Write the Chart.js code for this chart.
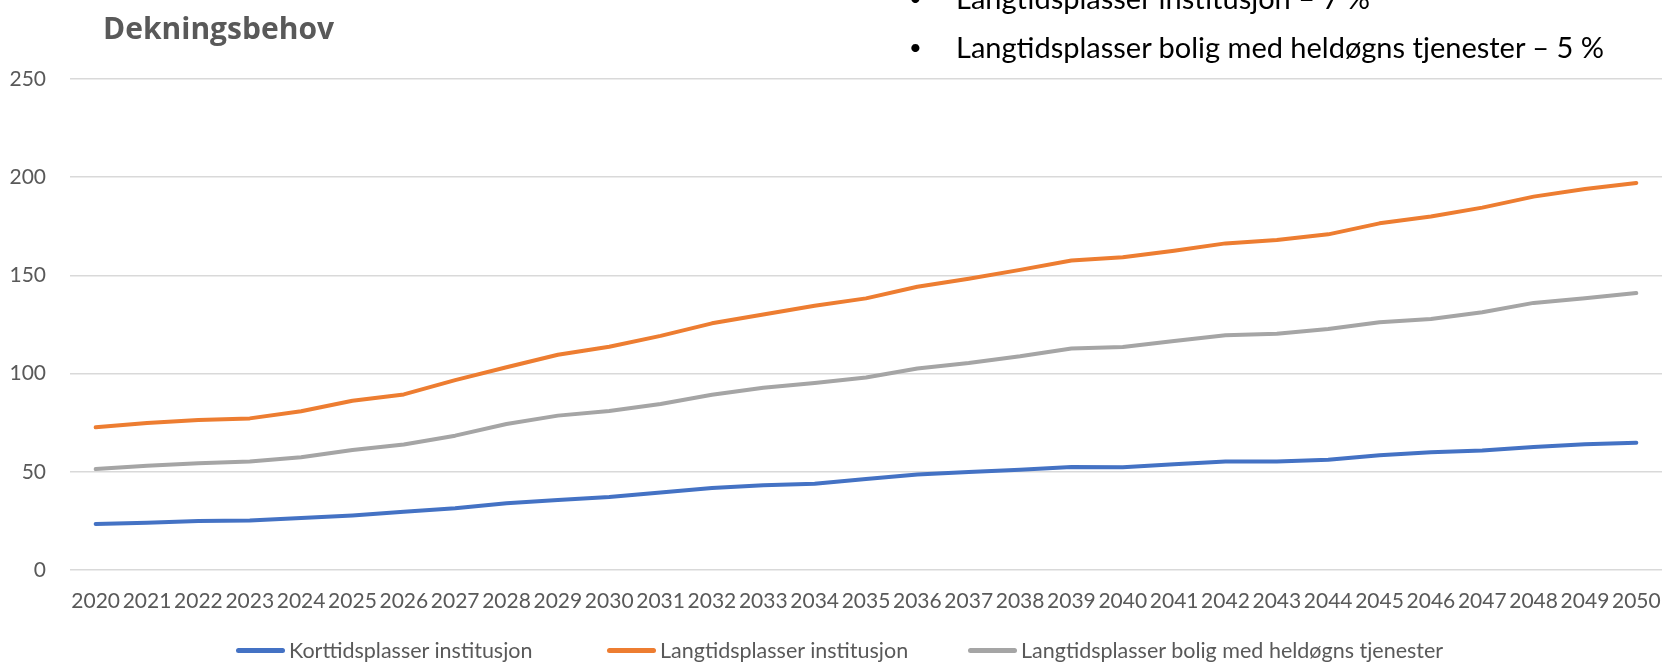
<!DOCTYPE html>
<html lang="no">
<head>
<meta charset="utf-8">
<title>Dekningsbehov</title>
<script src="https://cdn.jsdelivr.net/npm/chart.js@4/dist/chart.umd.min.js"></script>
<style>
  html, body { margin: 0; padding: 0; background: #ffffff; overflow: hidden; }
  #wrap { position: relative; width: 1665px; height: 663px; overflow: hidden; background: #ffffff; }
  #chart { position: absolute; left: 0; top: 0; }
  #title {
    position: absolute; left: 103px; top: 10px;
    font-family: "Open Sans", Lato, sans-serif; font-weight: 700; font-size: 30px; line-height: 36px;
    color: #595959; white-space: nowrap;
  }
  .bullet {
    position: absolute; left: 909px; height: 50px; line-height: 50px;
    font-family: Lato, "Liberation Sans", sans-serif; font-size: 29px; color: #000000; white-space: nowrap;
  }
  .bullet .dot { display: inline-block; width: 47px; font-size: 22px; vertical-align: top; }
  #legend {
    position: absolute; left: 0; top: 638px; width: 1665px; height: 24px;
    font-family: Lato, "Liberation Sans", sans-serif; font-size: 21.5px; color: #595959; white-space: nowrap;
  }
  #legend .item { position: absolute; top: 0; height: 24px; display: flex; align-items: center; }
  #legend .swatch { width: 49px; height: 5px; border-radius: 2.5px; margin-right: 4px; }
</style>
</head>
<body>
<div id="wrap">
  <canvas id="chart" width="1665" height="663"></canvas>
  <div id="title">Dekningsbehov</div>
  <div class="bullet" style="top:-27px"><span class="dot">•</span>Langtidsplasser institusjon – 7 %</div>
  <div class="bullet" style="top:22px"><span class="dot">•</span>Langtidsplasser bolig med heldøgns tjenester – 5 %</div>
  <div id="legend"></div>
</div>
<script>
// Years on the category axis
const years = ['2020','2021','2022','2023','2024','2025','2026','2027','2028','2029','2030',
               '2031','2032','2033','2034','2035','2036','2037','2038','2039','2040',
               '2041','2042','2043','2044','2045','2046','2047','2048','2049','2050'];

// Series names
const seriesNames = ['Korttidsplasser institusjon', 'Langtidsplasser institusjon', 'Langtidsplasser bolig med heldøgns tjenester'];

// Needed places per year
const korttidInstitusjon = [23.4, 24.1, 24.9, 25.2, 26.5, 27.8, 29.6, 31.4, 34.0, 35.6, 37.2,
                            39.5, 41.7, 43.2, 43.9, 46.3, 48.6, 49.9, 51.0, 52.4, 52.3,
                            53.8, 55.2, 55.3, 56.1, 58.4, 59.9, 60.8, 62.6, 64.0, 64.8];
const langtidInstitusjon = [72.7, 74.8, 76.4, 77.2, 80.8, 86.2, 89.4, 96.7, 103.2, 109.6, 113.7,
                            119.2, 125.6, 130.1, 134.5, 138.3, 144.2, 148.3, 152.8, 157.6, 159.2,
                            162.6, 166.3, 168.0, 170.9, 176.5, 180.0, 184.5, 190.1, 194.0, 197.1];
const langtidBolig = [51.4, 53.1, 54.3, 55.2, 57.4, 61.1, 63.9, 68.4, 74.3, 78.6, 81.0,
                      84.5, 89.2, 92.8, 95.2, 98.0, 102.6, 105.4, 108.8, 112.8, 113.6,
                      116.6, 119.5, 120.3, 122.7, 126.1, 127.8, 131.2, 136.0, 138.4, 141.0];

// Value axis ticks
const yTicks = [0, 50, 100, 150, 200, 250];

const seriesColors = ['#4472C4', '#ED7D31', '#A5A5A5'];
const seriesValues = [korttidInstitusjon, langtidInstitusjon, langtidBolig];

const tickFont = { family: 'Lato, "Liberation Sans", sans-serif', size: 21 };

// Keep the plot area fixed: drop the label overhang padding the scales ask for
function noOverhang(scale) {
  scale.paddingLeft = 0;
  scale.paddingRight = 0;
  scale.paddingTop = 0;
  scale.paddingBottom = 0;
}

const chart = new Chart(document.getElementById('chart'), {
  type: 'line',
  data: {
    labels: years,
    datasets: seriesNames.map((name, i) => ({
      label: name,
      data: seriesValues[i],
      borderColor: seriesColors[i],
      backgroundColor: seriesColors[i],
      borderWidth: 4,
      borderCapStyle: 'round',
      borderJoinStyle: 'round',
      pointRadius: 0,
      tension: 0,
      fill: false
    }))
  },
  options: {
    responsive: false,
    animation: false,
    devicePixelRatio: 1,
    layout: { autoPadding: false, padding: { left: 10, right: 3, top: 79, bottom: 49 } },
    plugins: {
      legend: { display: false },
      tooltip: { enabled: false },
      title: { display: false }
    },
    scales: {
      x: {
        type: 'category',
        offset: true,
        grid: { display: false, drawTicks: false },
        border: { display: false },
        ticks: {
          autoSkip: false, maxRotation: 0, minRotation: 0,
          color: '#595959', font: tickFont, padding: 19
        },
        afterFit: (scale) => { noOverhang(scale); scale.height = 44; }
      },
      y: {
        min: yTicks[0],
        max: yTicks[yTicks.length - 1],
        afterBuildTicks: (scale) => { scale.ticks = yTicks.map(v => ({ value: v })); },
        grid: { color: '#d9d9d9', lineWidth: 1.5, drawTicks: false },
        border: { display: false },
        ticks: { color: '#595959', font: tickFont, padding: 24 },
        afterFit: (scale) => { noOverhang(scale); scale.width = 60; }
      }
    }
  }
});

// Legend row below the plot, built from the chart's datasets
const legendLeft = [236, 607, 968];
const legendEl = document.getElementById('legend');
chart.data.datasets.forEach((ds, i) => {
  const item = document.createElement('div');
  item.className = 'item';
  item.style.left = legendLeft[i] + 'px';
  const sw = document.createElement('span');
  sw.className = 'swatch';
  sw.style.background = ds.borderColor;
  const txt = document.createElement('span');
  txt.textContent = ds.label;
  item.appendChild(sw);
  item.appendChild(txt);
  legendEl.appendChild(item);
});
</script>
</body>
</html>
